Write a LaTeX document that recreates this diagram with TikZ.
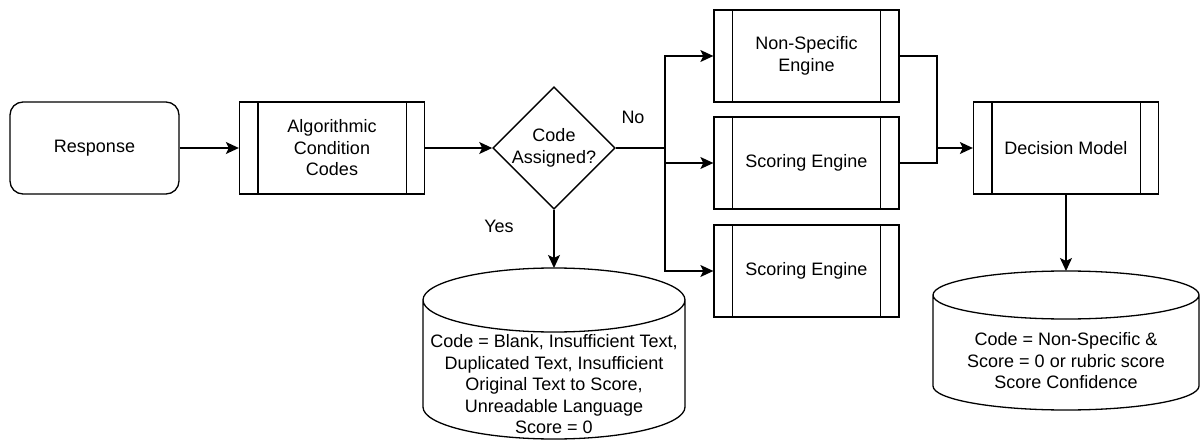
\documentclass[tikz,border=0pt]{standalone}
\usepackage{fontspec}
\setmainfont{Liberation Sans}
\usetikzlibrary{arrows.meta,shapes.geometric}

\newcommand{\storeshape}[3]{%
  \draw ([yshift=-#3pt]#1.north west) -- ([yshift=#3pt]#1.south west)
    arc[start angle=180,end angle=360,x radius=#2pt,y radius=#3pt]
    -- ([yshift=-#3pt]#1.north east)
    arc[start angle=0,end angle=360,x radius=#2pt,y radius=#3pt];}

\begin{document}
\begin{tikzpicture}[x=1pt,y=-1pt,line width=1.3pt,
  font=\fontsize{18}{21.5}\selectfont,
  flow/.style={line width=1.3pt,-{Stealth[length=13pt,width=12pt,inset=3pt]}},
  term/.style={draw,rounded corners=13pt,minimum width=169pt,minimum height=92pt},
  proc/.style={draw,align=center,minimum width=185pt,minimum height=92pt,
    append after command={\pgfextra{
      \draw[line width=1.3pt] ([xshift=19pt]\tikzlastnode.north west) -- ([xshift=19pt]\tikzlastnode.south west)
        ([xshift=-19pt]\tikzlastnode.north east) -- ([xshift=-19pt]\tikzlastnode.south east);}}},
  test/.style={draw,diamond,align=center,inner sep=0pt,minimum width=122pt,minimum height=122pt},
  store/.style={inner sep=0pt,outer sep=0pt}]
  \useasboundingbox (0,0) rectangle (1200,441);
  \node[term] (resp) at (94.5,148) {Response};
  \node[proc] (acc) at (332,148) {Algorithmic\\Condition\\Codes};
  \node[test] (assigned) at (554,148) {Code\\Assigned?};
  \node[proc] (nonspec) at (806.5,56) {Non-Specific\\Engine};
  \node[proc] (score1) at (806.5,163) {Scoring Engine};
  \node[proc] (score2) at (806.5,271) {Scoring Engine};
  \node[proc] (decision) at (1066,148) {Decision Model};
  \node[store,minimum width=262pt,minimum height=171pt] (blankdb) at (554,353.5) {};
  \storeshape{blankdb}{131}{32}
  \node[align=center] (blanktxt) at (554,384.5)
    {Code = Blank, Insufficient Text,\\Duplicated Text, Insufficient\\Original Text to Score,\\Unreadable Language\\Score = 0};
  \node[store,minimum width=266pt,minimum height=139pt] (resultdb) at (1066,340.5) {};
  \storeshape{resultdb}{133}{24}
  \node[align=center] (resulttxt) at (1066,361)
    {Code = Non-Specific \&\\Score = 0 or rubric score\\Score Confidence};
  \coordinate (split) at (665,148);
  \coordinate (merge) at (937,148);
  \draw[flow] (resp) -- (acc);
  \draw[flow] (acc) -- (assigned);
  \draw (assigned.east) -- (split);
  \draw[flow] (split) |- (nonspec);
  \draw[flow] (split) |- (score1);
  \draw[flow] (split) |- (score2);
  \draw[flow] (assigned) -- (blankdb);
  \draw (nonspec.east) -| (merge);
  \draw (score1.east) -| (merge);
  \draw[flow] (merge) -- (decision);
  \draw[flow] (decision) -- (resultdb);
  \node (no) at (633,117) {No};
  \node (yes) at (499,226) {Yes};
\end{tikzpicture}
\end{document}
